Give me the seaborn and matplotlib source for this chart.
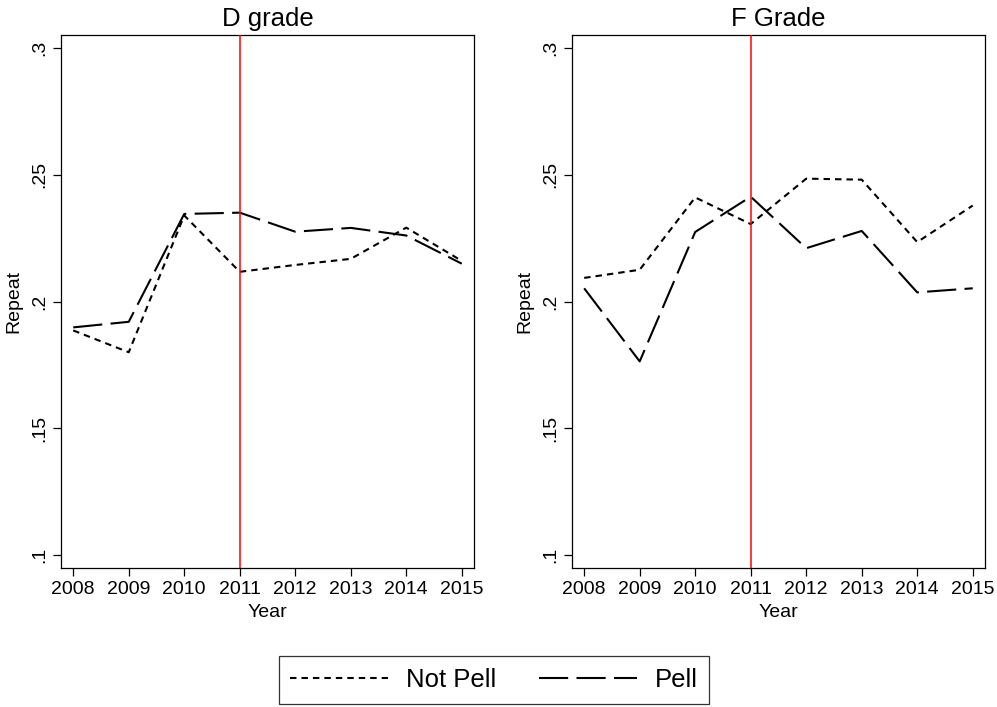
import matplotlib
matplotlib.use("Agg")
import matplotlib.pyplot as plt
import seaborn as sns
import pandas as pd
from matplotlib.lines import Line2D

# ---- data ----
years = [2008, 2009, 2010, 2011, 2012, 2013, 2014, 2015]
groups = ["Not Pell", "Pell"]
d_not_pell = [0.1886, 0.1800, 0.2339, 0.2117, 0.2144, 0.2168, 0.2291, 0.2160]
d_pell = [0.1898, 0.1920, 0.2345, 0.2350, 0.2275, 0.2290, 0.2260, 0.2149]
f_not_pell = [0.2093, 0.2125, 0.2410, 0.2305, 0.2484, 0.2480, 0.2234, 0.2378]
f_pell = [0.2052, 0.1764, 0.2274, 0.2413, 0.2210, 0.2278, 0.2036, 0.2052]
panel_titles = ["D grade", "F Grade"]
y_ticks = [0.1, 0.15, 0.2, 0.25, 0.3]
y_tick_labels = [".1", ".15", ".2", ".25", ".3"]
policy_year = 2011

sns.set_style("white")
plt.rcParams["font.family"] = ["Liberation Sans", "DejaVu Sans"]
plt.rcParams.update({
    "text.color": "black",
    "axes.labelcolor": "black",
    "xtick.color": "black",
    "ytick.color": "black",
    "axes.edgecolor": "black",
})


def make_df(not_pell, pell):
    rows = []
    for g, vals in zip(groups, [not_pell, pell]):
        for yr, v in zip(years, vals):
            rows.append({"Year": yr, "Repeat": v, "Group": g})
    return pd.DataFrame(rows)


panels = [make_df(d_not_pell, d_pell), make_df(f_not_pell, f_pell)]

fig = plt.figure(figsize=(9.97, 7.07), dpi=100)
ax_w = 0.4142
ax_h = 0.7539
lefts = [0.0612, 0.5737]
bottom = 0.1966

lw = 1.5
dash_styles = {"Not Pell": (3.1, 2.4), "Pell": (14.0, 4.0)}
palette = {"Not Pell": "black", "Pell": "black"}

for i, (df, title) in enumerate(zip(panels, panel_titles)):
    ax = fig.add_axes([lefts[i], bottom, ax_w, ax_h])
    sns.lineplot(data=df, x="Year", y="Repeat", hue="Group", style="Group",
                 hue_order=groups, style_order=groups,
                 palette=palette, dashes=dash_styles, linewidth=lw,
                 legend=False, ax=ax)
    ax.axvline(policy_year, color="red", linewidth=1.1, zorder=3)
    ax.set_xlim(2007.78, 2015.22)
    ax.set_ylim(0.095, 0.305)
    ax.set_xticks(years)
    ax.set_xticklabels([str(y) for y in years], fontsize=14, color="black")
    ax.set_yticks(y_ticks)
    ax.set_yticklabels(y_tick_labels, fontsize=14, rotation=90, va="center", color="black")
    ax.tick_params(axis="both", direction="out", length=6, width=0.9,
                   color="black", labelcolor="black", pad=3.5, left=True, bottom=True)
    ax.set_xlabel("Year", fontsize=14, labelpad=4, color="black")
    ax.set_ylabel("Repeat", fontsize=14, labelpad=6, color="black")
    ax.set_title(title, fontsize=18.5, pad=6.5, color="black")
    for sp in ax.spines.values():
        sp.set_visible(True)
        sp.set_color("black")
        sp.set_linewidth(0.9)
    ax.grid(False)

handles = [Line2D([0], [0], color="black", linewidth=lw, dashes=dash_styles[g]) for g in groups]
leg = fig.legend(handles, groups, loc="center", bbox_to_anchor=(0.4955, 0.0382),
                 ncol=2, fontsize=18.5, frameon=True, fancybox=False,
                 handlelength=3.8, handletextpad=0.7, columnspacing=1.67,
                 borderpad=0.45, edgecolor="black", labelcolor="black")
leg.get_frame().set_linewidth(0.9)

fig.savefig("out.png", dpi=100)
